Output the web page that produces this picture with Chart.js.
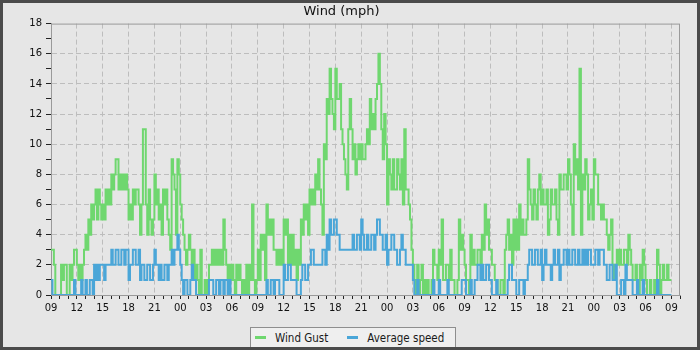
<!DOCTYPE html>
<html>
<head>
<meta charset="utf-8">
<script src="https://cdn.jsdelivr.net/npm/chart.js@4/dist/chart.umd.min.js"></script>
<style>
  html, body { margin: 0; padding: 0; background: #4b4b4b; }
  #quadro { position: absolute; left: 3px; top: 3px; width: 694px; height: 344px; background: #e6e6e6; overflow: hidden; }
  #legenda { position: absolute; top: 324px; left: 247px; height: 21px; box-sizing: border-box;
    border: 1px solid #8e8e8e; background: #efefef; display: flex; align-items: center; padding: 0 11px 0 4px;
    font-family: "DejaVu Sans Condensed", "DejaVu Sans", sans-serif; font-stretch: condensed; font-size: 11.5px;
    color: #1a1a1a; white-space: nowrap; }
  #legenda .amostra { display: inline-block; width: 11px; height: 3px; margin-right: 9px; }
  #legenda .item { display: flex; align-items: center; }
  #legenda .item + .item { margin-left: 19px; }
</style>
</head>
<body>
<div id="quadro">
  <canvas id="myChart" width="694" height="344"></canvas>
  <div id="legenda"></div>
</div>
<script>
//dados

const titulo = 'Wind (mph)'
const nomes = ['Wind Gust', 'Average speed']
const hora_inicio = 9      // primeira amostra 09:00
const minutos_passo = 10   // uma amostra a cada 10 minutos
const horas_total = 73

// rajada, uma linha = 1 hora (6 amostras)
const rajada = [
  3,3,2,0,0,0,  0,2,1,2,2,0,  0,2,1,2,3,3,  2,1,2,1,2,3,
  4,3,5,4,6,5,  6,7,5,7,6,5,  6,5,7,6,7,6,  8,7,8,9,9,7,
  8,7,8,7,8,7,  5,6,5,7,6,7,  7,6,4,6,11,11, 6,4,7,5,4,5,
  8,6,7,5,6,4,  7,6,7,5,4,3,  9,8,7,4,9,8,  6,5,4,3,2,3,
  4,3,2,3,1,2,  1,0,3,0,0,1,  0,1,2,2,3,2,  3,2,3,2,3,2,
  5,3,2,1,2,1,  2,1,0,2,1,2,  1,0,1,0,2,0,  2,1,6,1,0,1,
  3,1,4,3,4,1,  6,4,5,4,5,3,  3,2,3,2,3,2,  5,4,5,2,4,2,
  4,2,3,1,3,2,  5,4,6,5,6,4,  7,6,7,6,8,7,  9,7,6,4,10,9,
  13,12,15,13,12,11,  15,13,13,14,11,10,  9,8,7,11,13,11,  9,10,8,9,10,9,
  10,9,9,10,11,10,  13,11,12,11,13,14,  16,14,11,9,12,10,  6,9,8,7,9,7,
  7,9,8,7,9,6,  11,7,7,6,5,3,  2,1,0,2,0,1,  2,0,1,0,1,0,
  0,1,3,2,2,1,  3,2,5,1,1,2,  2,1,3,1,1,0,  0,1,5,3,4,3,
  2,1,1,0,4,2,  3,2,2,3,3,2,  4,3,6,4,5,3,  3,2,2,1,1,0,
  0,1,1,0,3,4,  5,3,4,2,5,3,  5,3,6,4,5,4,  4,5,9,7,6,5,
  7,6,5,7,8,6,  7,6,6,7,4,5,  7,6,6,7,5,4,  8,7,7,8,8,7,
  9,8,6,4,10,8,  9,7,15,4,8,7,  9,8,5,6,7,5,  9,8,8,6,6,5,
  6,5,5,4,3,4,  5,2,1,2,3,2,  3,2,2,3,3,2,  4,3,2,1,1,2,
  1,0,2,1,3,2,  1,0,0,1,0,0,  1,0,3,2,0,1,  2,1,1,2,1,1,
  1
]

// velocidade media, mesma grade de tempo
const media = [
  1,0,0,0,0,0,  0,0,0,0,0,0,  0,0,0,0,1,0,  0,0,0,1,0,0,
  1,0,0,1,1,0,  2,1,2,1,2,2,  2,1,2,2,2,2,  3,2,2,3,3,2,
  2,3,3,2,3,3,  1,2,2,3,3,2,  2,3,1,2,2,1,  1,2,2,1,1,2,
  3,2,2,1,2,1,  1,2,2,1,2,2,  3,2,3,3,4,3,  2,1,0,1,1,0,
  0,1,2,1,1,0,  0,0,0,0,0,0,  0,0,1,1,1,0,  0,1,1,0,1,1,
  0,1,1,0,1,0,  0,0,0,0,0,0,  0,0,0,0,0,0,  0,0,0,0,0,0,
  0,0,0,0,0,0,  1,0,0,1,1,0,  1,1,1,0,0,0,  2,1,1,2,2,1,
  1,1,1,0,0,0,  1,2,2,1,1,2,  2,3,3,2,2,2,  2,2,2,3,3,2,
  4,3,5,4,4,5,  5,4,4,3,3,3,  3,3,3,3,3,3,  4,3,3,4,4,3,
  5,4,3,3,4,3,  3,4,4,3,4,5,  5,4,4,3,3,4,  2,3,3,4,4,3,
  3,2,2,3,4,3,  3,2,2,2,2,2,  1,0,0,1,0,0,  0,0,0,0,0,0,
  0,0,1,0,0,0,  1,0,0,0,0,0,  1,0,0,0,0,0,  0,0,0,0,1,1,
  1,0,0,0,1,0,  0,1,1,2,2,1,  2,1,1,2,2,1,  1,0,0,0,1,0,
  0,0,0,0,0,0,  1,2,2,1,1,1,  0,0,1,1,1,0,  1,1,2,3,3,2,
  2,3,3,2,2,3,  1,2,3,2,2,2,  1,2,3,2,2,3,  1,2,2,3,3,2,
  3,2,2,3,3,2,  2,3,2,2,3,2,  3,2,3,3,2,2,  2,3,3,2,3,3,
  3,2,2,1,1,2,  2,1,1,2,0,0,  0,1,1,0,2,1,  1,1,1,0,0,0,
  1,0,0,0,1,0,  0,0,0,0,0,0,  0,0,1,0,0,0,  0,0,0,0,0,0,
  0
]

const cor_rajada = '#6fd76f'
const cor_media = '#4aa6d8'
const fonte = '"DejaVu Sans", sans-serif'

/*========================================================*/

//operações

function pontos(valores){
    let lista = []
    for(let i = 0; i < valores.length; i++){
        lista.push({x: i * minutos_passo / 60, y: valores[i]})
    }
    return lista
}

function rotulo_hora(valor){
    if(valor % 3 != 0) return ''
    let h = (hora_inicio + valor) % 24
    return String(h).padStart(2, '0')
}

// moldura cinza em volta da area do grafico
const moldura = {
    id: 'moldura',
    beforeDatasetsDraw(chart){
        const a = chart.chartArea
        const c = chart.ctx
        c.save()
        c.strokeStyle = '#9a9a9a'
        c.lineWidth = 1
        c.strokeRect(a.left + 0.5, a.top + 0.5, a.right - a.left - 1, a.bottom - a.top)
        c.restore()
    }
}

/*========================================================*/

//saida

const ctx = document.getElementById('myChart')

var grafico = new Chart(ctx, {
    type: 'line',
    data: {
        datasets: [{
            label: nomes[0],
            data: pontos(rajada),
            borderColor: cor_rajada,
            backgroundColor: cor_rajada,
            borderWidth: 2,
            stepped: true,
            pointRadius: 0,
            order: 1
        }, {
            label: nomes[1],
            data: pontos(media),
            borderColor: cor_media,
            backgroundColor: cor_media,
            borderWidth: 2,
            stepped: true,
            pointRadius: 0,
            order: 0
        }]
    },
    options: {
        responsive: false,
        animation: false,
        layout: { padding: { left: 0, right: 17, top: 0, bottom: 22 } },
        plugins: {
            legend: { display: false },
            tooltip: { enabled: false },
            title: {
                display: true,
                text: titulo,
                color: '#111',
                font: { family: fonte, size: 13, weight: 'normal' },
                padding: { top: 1, bottom: 4 }
            }
        },
        scales: {
            x: {
                type: 'linear',
                min: 0,
                max: horas_total,
                afterFit: (s) => { s.height = 30 },
                border: { color: '#9a9a9a', dash: [5, 3] },
                grid: {
                    color: (c) => (c.tick.value % 3 == 0 && c.tick.value > 0 && c.tick.value < horas_total) ? '#bdbdbd' : 'transparent',
                    tickColor: '#222',
                    tickLength: 4
                },
                ticks: {
                    stepSize: 1,
                    autoSkip: false,
                    maxRotation: 0,
                    minRotation: 0,
                    padding: 3,
                    color: '#111',
                    font: { family: fonte, size: 10 },
                    callback: (v) => rotulo_hora(v)
                }
            },
            y: {
                min: 0,
                max: 18,
                afterFit: (s) => { s.width = 48 },
                border: { color: '#9a9a9a', dash: [5, 3] },
                grid: {
                    color: (c) => (c.tick.value % 2 == 0 && c.tick.value > 0 && c.tick.value < 18) ? '#bdbdbd' : 'transparent',
                    tickColor: '#222',
                    tickLength: 5
                },
                ticks: {
                    stepSize: 1,
                    autoSkip: false,
                    padding: 4,
                    color: '#111',
                    font: { family: fonte, size: 10 },
                    callback: (v) => (v % 2 == 0 ? String(v) : '')
                }
            }
        }
    },
    plugins: [moldura]
})

// legenda em caixa, montada a partir das series do grafico
const legenda = document.getElementById('legenda')
grafico.data.datasets.forEach((d) => {
    let item = document.createElement('span')
    item.className = 'item'
    let amostra = document.createElement('span')
    amostra.className = 'amostra'
    amostra.style.background = d.borderColor
    let texto = document.createElement('span')
    texto.textContent = d.label
    item.appendChild(amostra)
    item.appendChild(texto)
    legenda.appendChild(item)
})
</script>
</body>
</html>
